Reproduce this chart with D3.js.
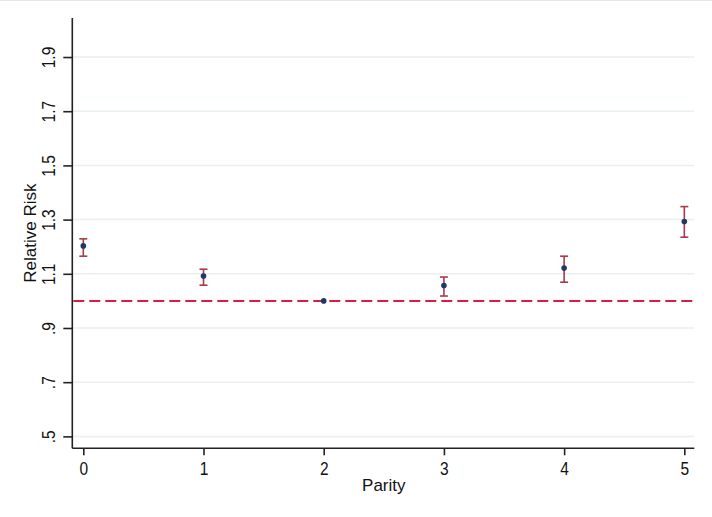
<!DOCTYPE html>
<html>
<head>
<meta charset="utf-8">
<script src="https://cdn.jsdelivr.net/npm/d3@7"></script>
<style>
  html, body { margin: 0; padding: 0; background: #fff; }
  svg { display: block; }
  .tick-label { font-family: "Liberation Sans", Arial, sans-serif; font-size: 15.5px; fill: #111; }
  .title { font-family: "Liberation Sans", Arial, sans-serif; font-size: 17px; fill: #111; }
</style>
</head>
<body>
<svg id="chart" width="712" height="517"></svg>
<script>
// Relative risk by parity, with 95% confidence intervals
const parity   = [0, 1, 2, 3, 4, 5];
const rr       = [1.203, 1.092, 1.000, 1.057, 1.121, 1.293];
const ciLower  = [1.165, 1.058, 1.000, 1.018, 1.069, 1.235];
const ciUpper  = [1.229, 1.117, 1.000, 1.088, 1.165, 1.348];
const yTicks   = [0.5, 0.7, 0.9, 1.1, 1.3, 1.5, 1.7, 1.9];
const yTickLabels = [".5", ".7", ".9", "1.1", "1.3", "1.5", "1.7", "1.9"];
const xTickLabels = ["0", "1", "2", "3", "4", "5"];
const reference = 1.0;

const svg = d3.select("#chart");

// faint frame line along the top edge
svg.append("line").attr("x1", 0).attr("x2", 712).attr("y1", 0.5).attr("y2", 0.5)
  .attr("stroke", "#e6e6e6").attr("stroke-width", 1);

const plotL = 72.3, plotR = 694.3, plotT = 18, plotB = 448.3;

const x = d3.scaleLinear().domain([-0.0915, 5.083]).range([plotL, plotR]);
const y = d3.scaleLinear().domain([0.456, 2.044]).range([plotB, plotT]);

// horizontal gridlines
svg.append("g").selectAll("line").data(yTicks).join("line")
  .attr("x1", plotL).attr("x2", plotR)
  .attr("y1", d => y(d)).attr("y2", d => y(d))
  .attr("stroke", "#e9eff2").attr("stroke-width", 1.5);

// reference line at RR = 1
svg.append("line")
  .attr("x1", plotL + 1).attr("x2", plotR)
  .attr("y1", y(reference)).attr("y2", y(reference))
  .attr("stroke", "#d61f45").attr("stroke-width", 2)
  .attr("stroke-dasharray", "11 5");

// y axis (labels rotated, slightly tall glyphs)
const yAxis = d3.axisLeft(y).tickValues(yTicks)
  .tickFormat((d, i) => yTickLabels[i]).tickSize(9).tickPadding(4);
const gy = svg.append("g").attr("transform", `translate(${plotL},0)`).call(yAxis);
gy.select(".domain").attr("stroke", "#222").attr("stroke-width", 1.6)
  .attr("d", `M0,${plotT}V${plotB}`);
gy.selectAll(".tick line").attr("stroke", "#222").attr("stroke-width", 1.6);
gy.selectAll(".tick text")
  .attr("class", "tick-label")
  .attr("x", null)
  .attr("text-anchor", "middle")
  .attr("transform", "translate(-24,0) rotate(-90) scale(1,1.18)")
  .attr("dy", "0.36em");

// x axis
const xAxis = d3.axisBottom(x).tickValues(parity)
  .tickFormat((d, i) => xTickLabels[i]).tickSize(7).tickPadding(8);
const gx = svg.append("g").attr("transform", `translate(0,${plotB})`).call(xAxis);
gx.select(".domain").attr("stroke", "#222").attr("stroke-width", 1.6)
  .attr("d", `M${plotL},0H${plotR}`);
gx.selectAll(".tick line").attr("stroke", "#222").attr("stroke-width", 1.6);
gx.selectAll(".tick text").attr("class", "tick-label")
  .attr("y", null).attr("dy", null)
  .attr("transform", "translate(0,27) scale(1,1.18)");
svg.selectAll("g[font-family]").attr("font-family", null).attr("font-size", null);
svg.selectAll(".tick text").attr("fill", null);

// axis titles
svg.append("text").attr("class", "title")
  .attr("text-anchor", "middle")
  .attr("transform", `translate(36,${(plotT + plotB) / 2}) rotate(-90)`)
  .text("Relative Risk");
svg.append("text").attr("class", "title")
  .attr("text-anchor", "middle")
  .attr("x", x(2.5)).attr("y", 491)
  .text("Parity");

// confidence intervals
const capW = 4;
const ci = svg.append("g").attr("stroke", "#a83a4a").attr("stroke-width", 1.6).attr("fill", "none");
parity.forEach((p, i) => {
  if (ciUpper[i] - ciLower[i] <= 0) return;
  ci.append("line").attr("x1", x(p)).attr("x2", x(p)).attr("y1", y(ciLower[i])).attr("y2", y(ciUpper[i]));
  ci.append("line").attr("x1", x(p) - capW).attr("x2", x(p) + capW).attr("y1", y(ciLower[i])).attr("y2", y(ciLower[i]));
  ci.append("line").attr("x1", x(p) - capW).attr("x2", x(p) + capW).attr("y1", y(ciUpper[i])).attr("y2", y(ciUpper[i]));
});

// point estimates
svg.append("g").selectAll("circle").data(parity).join("circle")
  .attr("cx", d => x(d)).attr("cy", (d, i) => y(rr[i]))
  .attr("r", 2.8).attr("fill", "#1d3a66");
</script>
</body>
</html>
